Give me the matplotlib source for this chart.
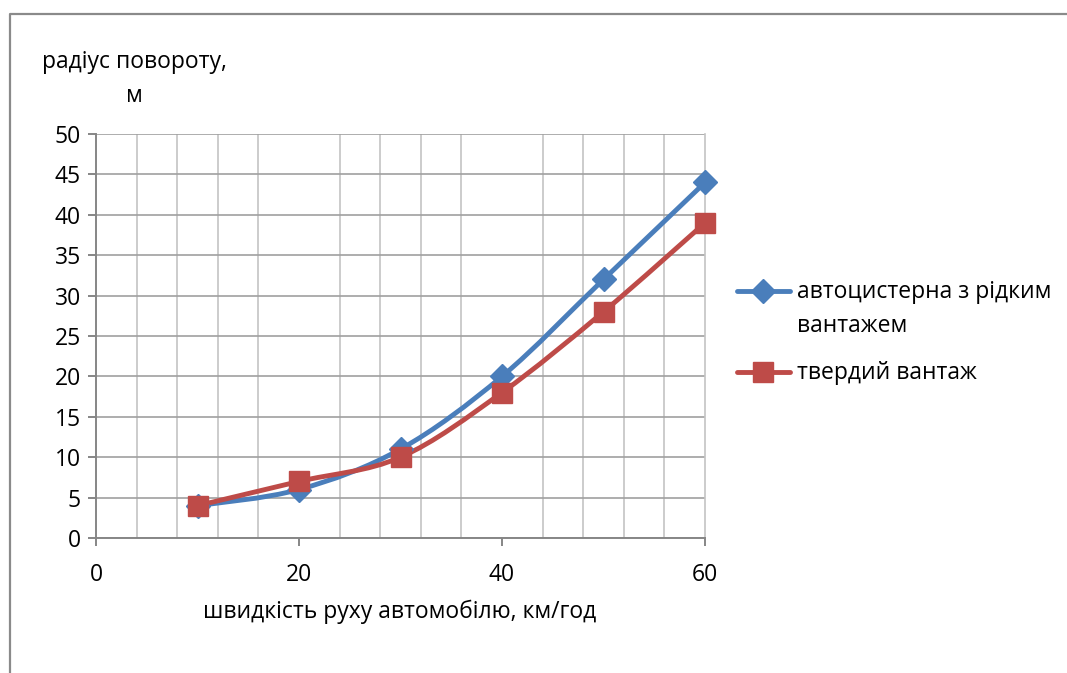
import matplotlib
matplotlib.use("Agg")
import matplotlib.pyplot as plt
from matplotlib.path import Path
from matplotlib.patches import PathPatch
from matplotlib.lines import Line2D
import numpy as np

plt.rcParams['font.family'] = ['Open Sans', 'DejaVu Sans']

speed = [10, 20, 30, 40, 50, 60]
tanker_radius = [4, 6, 11, 20, 32, 44]
solid_radius = [4, 7, 10, 18, 28, 39]
series_names = ["автоцистерна з рідким\nвантажем", "твердий вантаж"]
x_ticks = [0, 20, 40, 60]
y_ticks = [0, 5, 10, 15, 20, 25, 30, 35, 40, 45, 50]

BLUE = "#4A7EBB"
RED = "#BE4B48"
W, H = 1067, 673
FS = 16.5
LW = 3.5

fig = plt.figure(figsize=(W / 100, H / 100), dpi=100)
ax = fig.add_axes([96 / W, 1 - 538 / H, (705 - 96) / W, (538 - 134) / H])

ax.set_xlim(0, 60)
ax.set_ylim(0, 50)
ax.set_xticks(x_ticks)
ax.set_xticks(np.arange(0, 61, 4), minor=True)
ax.set_yticks(y_ticks)
ax.grid(True, axis='y', which='major', color='#a0a0a0', lw=1.2)
ax.grid(True, axis='x', which='minor', color='#c4c4c4', lw=1.2)
ax.set_axisbelow(True)
ax.spines['top'].set_visible(False)
ax.spines['right'].set_color('#c4c4c4')
ax.spines['right'].set_linewidth(1.2)
for s in ('left', 'bottom'):
    ax.spines[s].set_color('#868686')
    ax.spines[s].set_linewidth(1.4)
ax.tick_params(axis='both', which='major', length=6, width=1.4, color='#868686',
               labelsize=FS, labelcolor='black')
ax.tick_params(axis='x', which='major', pad=12)
ax.tick_params(axis='y', which='major', pad=5)
ax.tick_params(axis='x', which='minor', length=0)


def smooth_path(xs, ys):
    pts = np.column_stack([xs, ys]).astype(float)
    verts = [pts[0]]
    codes = [Path.MOVETO]
    n = len(pts)
    for i in range(n - 1):
        p0 = pts[i - 1] if i > 0 else pts[i]
        p1 = pts[i]
        p2 = pts[i + 1]
        p3 = pts[i + 2] if i + 2 < n else pts[i + 1]
        c1 = p1 + (p2 - p0) / 6.0
        c2 = p2 - (p3 - p1) / 6.0
        verts += [c1, c2, p2]
        codes += [Path.CURVE4] * 3
    return Path(verts, codes)


for ys, color, marker, ms in [(tanker_radius, BLUE, 'D', 12.5),
                              (solid_radius, RED, 's', 14.5)]:
    ax.add_patch(PathPatch(smooth_path(speed, ys), fill=False, edgecolor=color,
                           lw=LW, capstyle='round', joinstyle='round', zorder=3))
    ax.plot(speed, ys, ls='none', marker=marker, ms=ms, color=color,
            mec=color, zorder=4, clip_on=False)

fig.text(134 / W, 1 - 79 / H, "радіус повороту,\nм", ha='center', va='center',
         fontsize=FS, linespacing=1.6)
fig.text(400 / W, 1 - 612 / H, "швидкість руху автомобілю, км/год",
         ha='center', va='center', fontsize=FS)

# legend
legend_rows = [(BLUE, 'D', 12.5, 291), (RED, 's', 14.5, 372)]
for (color, marker, ms, yy), name in zip(legend_rows, series_names):
    fig.add_artist(Line2D([737 / W, 790 / W], [1 - yy / H, 1 - yy / H],
                          transform=fig.transFigure, color=color, lw=LW,
                          solid_capstyle='round'))
    fig.add_artist(Line2D([763 / W], [1 - yy / H], transform=fig.transFigure,
                          marker=marker, ms=ms, color=color, ls='none'))
    fig.text(797 / W, 1 - (yy - 11) / H, name, ha='left', va='top',
             fontsize=FS, linespacing=1.55)

# chart border
fig.add_artist(Line2D([10 / W, 10 / W, 1.0], [0.0, 1 - 14 / H, 1 - 14 / H],
                      transform=fig.transFigure, color='#8a8a8a', lw=1.6))

fig.savefig("out.png", dpi=100)
